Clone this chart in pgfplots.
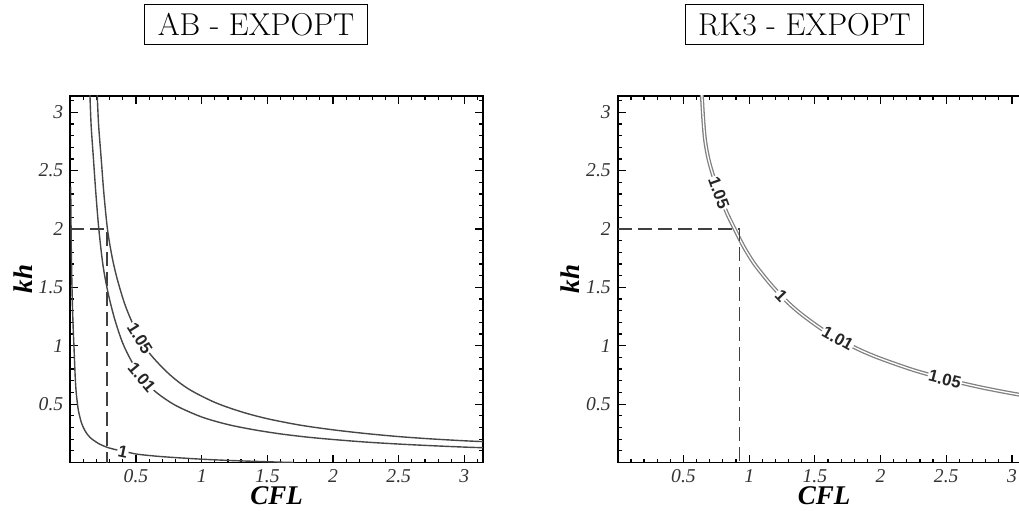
\documentclass[border=0pt]{standalone}
\usepackage{fontspec}
\usepackage{pgfplots}
\pgfplotsset{compat=1.18}
\newfontfamily\timesf{Liberation Serif}
\newfontfamily\helvf{Liberation Sans}

\tikzset{
 clab/.style={font=\helvf\bfseries\fontsize{8.4}{9}\selectfont, fill=white, inner sep=0.5pt, text=black!85},
 dashln/.style={black!75, line width=0.65pt, dash pattern=on 7pt off 3pt},
}
\pgfplotsset{
 myax/.style={
  scale only axis, width=206.35pt, height=183.4pt,
  xmin=0,xmax=3.14159,ymin=0,ymax=3.14159,
  anchor=south west,
  axis line style={line width=0.85pt},
  tick style={line width=0.6pt, black},
  major tick length=4pt, minor tick length=2pt,
  tick align=inside,
  xtick={0.5,1,1.5,2,2.5,3}, xticklabels={0.5,1,1.5,2,2.5,3},
  ytick={0.5,1,1.5,2,2.5,3}, yticklabels={0.5,1,1.5,2,2.5,3},
  minor xtick={0.1,0.2,0.3,0.4,0.6,0.7,0.8,0.9,1.1,1.2,1.3,1.4,1.6,1.7,1.8,1.9,2.1,2.2,2.3,2.4,2.6,2.7,2.8,2.9,3.1},
  minor ytick={0.1,0.2,0.3,0.4,0.6,0.7,0.8,0.9,1.1,1.2,1.3,1.4,1.6,1.7,1.8,1.9,2.1,2.2,2.3,2.4,2.6,2.7,2.8,2.9,3.1},
  tick label style={font=\timesf\itshape\fontsize{9.8}{11}\selectfont, text=black!80},
  xlabel={CFL}, ylabel={kh},
  every axis x label/.style={at={(axis description cs:0.5,0)},anchor=base,yshift=-21pt,font=\timesf\bfseries\itshape\fontsize{13.5}{16}\selectfont},
  every axis y label/.style={at={(axis description cs:0,0.5)},xshift=-19pt,rotate=90,anchor=base,font=\timesf\bfseries\itshape\fontsize{13.5}{16}\selectfont},
 },
}

\begin{document}
\begin{tikzpicture}
\useasboundingbox (0,0) rectangle (509.5pt,255pt);

\node[draw, line width=0.5pt, inner xsep=6.5pt, inner ysep=4.6pt, text height=10.8pt, text depth=0pt,
      font=\fontsize{15.8}{18}\selectfont] at (128pt,242.5pt) {AB - EXPOPT};
\node[draw, line width=0.5pt, inner xsep=6.5pt, inner ysep=4.6pt, text height=10.8pt, text depth=0pt,
      font=\fontsize{15.8}{18}\selectfont] at (402.25pt,242.5pt) {RK3 - EXPOPT};

% ---------- Left: AB - EXPOPT ----------
\begin{axis}[myax, at={(35.15pt,23.75pt)}]
\addplot[black!72, line width=0.7pt, smooth] coordinates {
(0.203,3.2)(0.215,2.9)(0.234,2.62)(0.256,2.3)(0.284,1.99)(0.32,1.75)(0.36,1.56)(0.42,1.34)(0.50,1.13)(0.60,0.94)(0.75,0.76)(0.90,0.63)(1.1,0.515)(1.3,0.435)(1.5,0.375)(1.75,0.32)(2.0,0.28)(2.25,0.248)(2.5,0.222)(2.75,0.202)(3.0,0.186)(3.16,0.178)};
\addplot[black!72, line width=0.7pt, smooth] coordinates {
(0.148,3.2)(0.158,2.9)(0.175,2.62)(0.195,2.3)(0.218,1.99)(0.25,1.68)(0.29,1.44)(0.34,1.22)(0.40,1.02)(0.47,0.86)(0.55,0.725)(0.65,0.605)(0.80,0.49)(1.0,0.39)(1.2,0.325)(1.4,0.28)(1.6,0.245)(1.8,0.218)(2.0,0.197)(2.25,0.175)(2.5,0.158)(2.75,0.144)(3.0,0.132)(3.16,0.126)};
\addplot[black!72, line width=0.7pt, smooth] coordinates {
(0.003,2.36)(0.008,1.8)(0.015,1.4)(0.022,1.15)(0.028,0.99)(0.033,0.85)(0.038,0.72)(0.045,0.6)(0.061,0.45)(0.085,0.34)(0.112,0.272)(0.15,0.215)(0.213,0.164)(0.28,0.13)(0.365,0.105)(0.45,0.085)(0.517,0.07)(0.7,0.05)(0.974,0.03)(1.2,0.018)(1.48,0.007)(1.7,0.0)};
\addplot[dashln] coordinates {(0,2)(0.28,2)(0.28,0)};
\node[clab, rotate=-58] at (axis cs:0.53,1.066) {1.05};
\node[clab, rotate=-50] at (axis cs:0.545,0.73) {1.01};
\node[clab, rotate=-12] at (axis cs:0.40,0.093) {1};
\end{axis}

% ---------- Right: RK3 - EXPOPT ----------
\begin{axis}[myax, at={(308.9pt,23.75pt)}]
\addplot[draw=black!50, line width=0.65pt, double=white, double distance=0.65pt, smooth] coordinates {
(0.636,3.2)(0.640,3.14)(0.650,2.95)(0.664,2.764)(0.69,2.6)(0.728,2.449)(0.78,2.28)(0.831,2.135)(0.894,1.99)(0.96,1.845)(1.034,1.71)(1.12,1.585)(1.2,1.48)(1.3,1.365)(1.4,1.268)(1.55,1.145)(1.7,1.045)(1.85,0.96)(2.0,0.89)(2.25,0.792)(2.5,0.713)(2.75,0.647)(3.0,0.592)(3.25,0.546)};
\addplot[dashln] coordinates {(0,2)(0.925,2)(0.925,0)};
\node[clab, rotate=-70] at (axis cs:0.77,2.31) {1.05};
\node[clab, rotate=-46] at (axis cs:1.245,1.43) {1};
\node[clab, rotate=-29] at (axis cs:1.674,1.062) {1.01};
\node[clab, rotate=-14] at (axis cs:2.49,0.714) {1.05};
\end{axis}
\end{tikzpicture}
\end{document}
